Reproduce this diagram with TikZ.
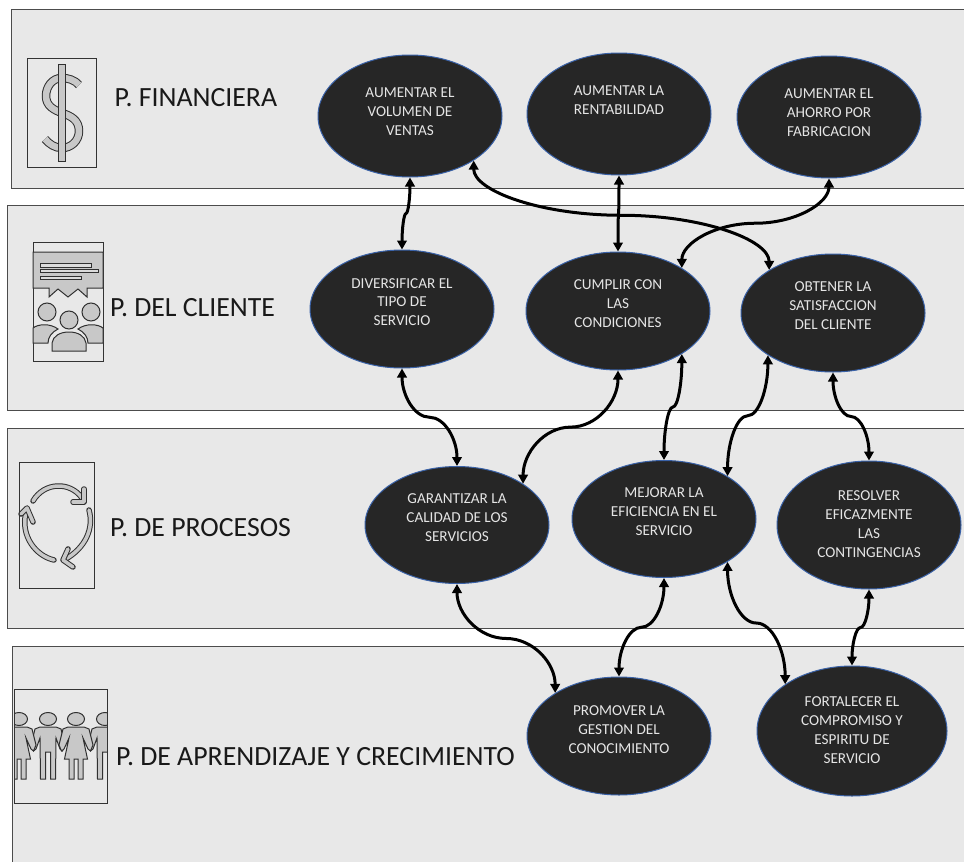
\documentclass[tikz,border=0pt]{standalone}
\usepackage{fontspec}
\setmainfont{Carlito}
\usetikzlibrary{calc,shapes.geometric,arrows.meta}
\definecolor{bandgray}{HTML}{E8E8E8}
\definecolor{goalfill}{HTML}{262626}
\definecolor{goalline}{HTML}{3A62A8}
\definecolor{icongray}{HTML}{C8C8C8}
\definecolor{iconline}{HTML}{303030}
\tikzset{
    band/.style={draw=black!70,fill=bandgray,line width=1pt},
    iconbox/.style={draw=black!80,line width=.9pt},
    iconpart/.style={draw=iconline,fill=icongray,line width=1pt},
    iconstroke/.style={draw=iconline,line width=1pt,double=icongray,double distance=#1,line cap=round,line join=round},
    persp/.style={anchor=base west,text=black!90,inner sep=0pt,font=\fontsize{27.8}{32}\selectfont},
    goal/.style={ellipse,draw=goalline,fill=goalfill,line width=1pt,inner sep=0pt,align=center,text=white!90!black,
        minimum width=184pt,minimum height=120pt,text depth=#1,font=\fontsize{15.2}{18.8}\selectfont},
    link/.style={line width=3pt,{Triangle[length=9pt,width=9.5pt]}-{Triangle[length=9pt,width=9.5pt]}}
}
\newcommand{\sconnect}[2]{
    \coordinate (mid) at ($(#1)!.5!(#2)$);
    \draw[link] (#1) .. controls ($(#1)!.55!(#1|-mid)$) and ($(mid)!.55!(#1|-mid)$) .. (mid)
        .. controls ($(mid)!.55!(#2|-mid)$) and ($(#2)!.55!(#2|-mid)$) .. (#2);
}
\newcommand{\manpath}{(-8,727)--(8,727)--(13,729)--(17,745)--(14.5,751)--(12,749)--(8,738)--(7.5,779)--(2.5,779)--(2.5,752)--(-2.5,752)--(-2.5,779)--(-7.5,779)--(-8,738)--(-12,749)--(-14.5,751)--(-17,745)--(-13,729)--cycle}
\newcommand{\womanpath}{(-8,727)--(8,727)--(13,729)--(17,745)--(14.5,751)--(12,749)--(7,738)--(11.5,759)--(7,759)--(7,779)--(2,779)--(2,759)--(-2,759)--(-2,779)--(-7,779)--(-7,759)--(-11.5,759)--(-7,738)--(-12,749)--(-14.5,751)--(-17,745)--(-13,729)--cycle}
\begin{document}
\begin{tikzpicture}[x=1pt,y=-1pt]
        \path[use as bounding box,clip](0,0)rectangle(964,862);
        \draw[band](11,9)rectangle(980,188);
        \draw[band](7,205)rectangle(980,410);
        \draw[band](7,428)rectangle(980,628);
        \draw[band](12,646)rectangle(980,880);

        % dollar icon
        \draw[iconbox](27,58)rectangle(96,167);
        \draw[iconstroke=6.5pt,line cap=butt](79,85)..controls(75,80)and(68,78)..(62,78)..controls(52,78)and(46,87)..(46,96)..controls(46,106)and(54,110)..(62,113)..controls(71,116)and(79,120)..(79,131)..controls(79,141)and(71,148)..(62,148)..controls(55,148)and(49,144)..(45,139);
        \draw[iconpart](58,64)rectangle(65,161);

        % client icon
        \draw[iconbox](33,242)rectangle(103,361);
        \draw[iconpart](33,252)--(103,252)--(103,288)--(87,288)--(87,297)--(78,289)--(68,297)--(58,289)--(49,297)--(49,288)--(33,288)--cycle;
        \draw[iconpart,fill=bandgray!60!icongray](40,263.5)rectangle(91,267);
        \draw[iconpart,fill=bandgray!60!icongray](40,269)rectangle(98,272.5);
        \draw[iconpart,fill=bandgray!60!icongray](40,276)rectangle(81,279);
        \draw[iconpart](47,312)circle[radius=9];
        \draw[iconpart](91,312)circle[radius=9];
        \draw[iconpart](69,320)circle[radius=9];
        \draw[iconpart](33,343)--(33,328)..controls(38,324)and(50,323)..(58,329)..controls(52,332)and(48,337)..(48,343)--cycle;
        \draw[iconpart](103,343)--(103,328)..controls(98,324)and(86,323)..(78,329)..controls(84,332)and(88,337)..(88,343)--cycle;
        \draw[iconpart](52,351)--(52,343)..controls(53,336)and(60,332)..(69,332)..controls(78,332)and(85,336)..(86,343)--(86,351)--cycle;

        % process icon
        \draw[iconbox](19,462)rectangle(94,588);
        \draw[iconstroke=3.5pt](33,501)..controls(44,482)and(70,481)..(82,498);
        \draw[iconstroke=3.5pt](84,489)--(84,502)--(73,502);
        \draw[iconstroke=3.5pt](89,510)..controls(94,528)and(86,548)..(64,560);
        \draw[iconstroke=3.5pt](68,549)--(63,560)--(73,567);
        \draw[iconstroke=3.5pt](54,560)..controls(36,556)and(20,536)..(26,512);
        \draw[iconstroke=3.5pt](21,514)--(27,508)--(33,522);

        % people icon
        \begin{scope}
            \clip(14,689)rectangle(107,803);
            \foreach \cx in {48,105}{
                \draw[iconpart,shift={(\cx,0)}]\manpath;
                \draw[iconpart](\cx,719)ellipse[x radius=8.5,y radius=6.5];
            }
            \foreach \cx in {19,76}{
                \draw[iconpart,shift={(\cx,0)}]\womanpath;
                \draw[iconpart](\cx,719)ellipse[x radius=8.5,y radius=6.5];
            }
        \end{scope}
        \draw[iconbox](14,689)rectangle(107,803);

        \node[persp](finlabel)at(114.5,106){P. FINANCIERA};
        \node[persp](clilabel)at(110,316){P. DEL CLIENTE};
        \node[persp](prolabel)at(110,536){P. DE PROCESOS};
        \node[persp](aprlabel)at(116,765){P. DE APRENDIZAJE Y CRECIMIENTO};

        \node[goal=9pt,minimum height=122pt](ventas)at(410,116){AUMENTAR EL\\VOLUMEN DE\\VENTAS};
        \node[goal=27pt,minimum height=122pt](rentab)at(619,114){AUMENTAR LA\\RENTABILIDAD};
        \node[goal=9pt,minimum height=122pt](ahorro)at(829,117){AUMENTAR EL\\AHORRO POR\\FABRICACION};
        \node[goal=14pt,minimum height=118pt](divers)at(402,309){DIVERSIFICAR EL\\TIPO DE\\SERVICIO};
        \node[goal=15pt,minimum height=118pt](cumplir)at(618,311){CUMPLIR CON\\LAS\\CONDICIONES};
        \node[goal=15pt,minimum height=118pt](satisf)at(833,313){OBTENER LA\\SATISFACCION\\DEL CLIENTE};
        \node[goal=15pt,minimum height=117pt](calidad)at(457,525){GARANTIZAR LA\\CALIDAD DE LOS\\SERVICIOS};
        \node[goal=15pt,minimum height=117pt](eficien)at(664,519){MEJORAR LA\\EFICIENCIA EN EL\\SERVICIO};
        \node[goal=2pt,minimum height=128pt](resolver)at(869,525){RESOLVER\\EFICAZMENTE\\LAS\\CONTINGENCIAS};
        \node[goal=13pt,minimum height=118pt](gestion)at(619,736){PROMOVER LA\\GESTION DEL\\CONOCIMIENTO};
        \node[goal=2pt,minimum width=190pt,minimum height=130pt](compro)at(852,731){FORTALECER EL\\COMPROMISO Y\\ESPIRITU DE\\SERVICIO};

        \sconnect{ventas.-90}{divers.90}
        \sconnect{ventas.-35}{satisf.146}
        \sconnect{rentab.-90}{cumplir.90}
        \sconnect{ahorro.-90}{cumplir.34}
        \sconnect{divers.-90}{calidad.90}
        \sconnect{cumplir.-90}{calidad.32}
        \sconnect{cumplir.-34}{eficien.90}
        \sconnect{satisf.-147}{eficien.34}
        \sconnect{satisf.-90}{resolver.90}
        \sconnect{calidad.-90}{gestion.146}
        \sconnect{eficien.-90}{gestion.90}
        \sconnect{eficien.-34}{compro.145}
        \sconnect{resolver.-90}{compro.90}
    \end{tikzpicture}
\end{document}
